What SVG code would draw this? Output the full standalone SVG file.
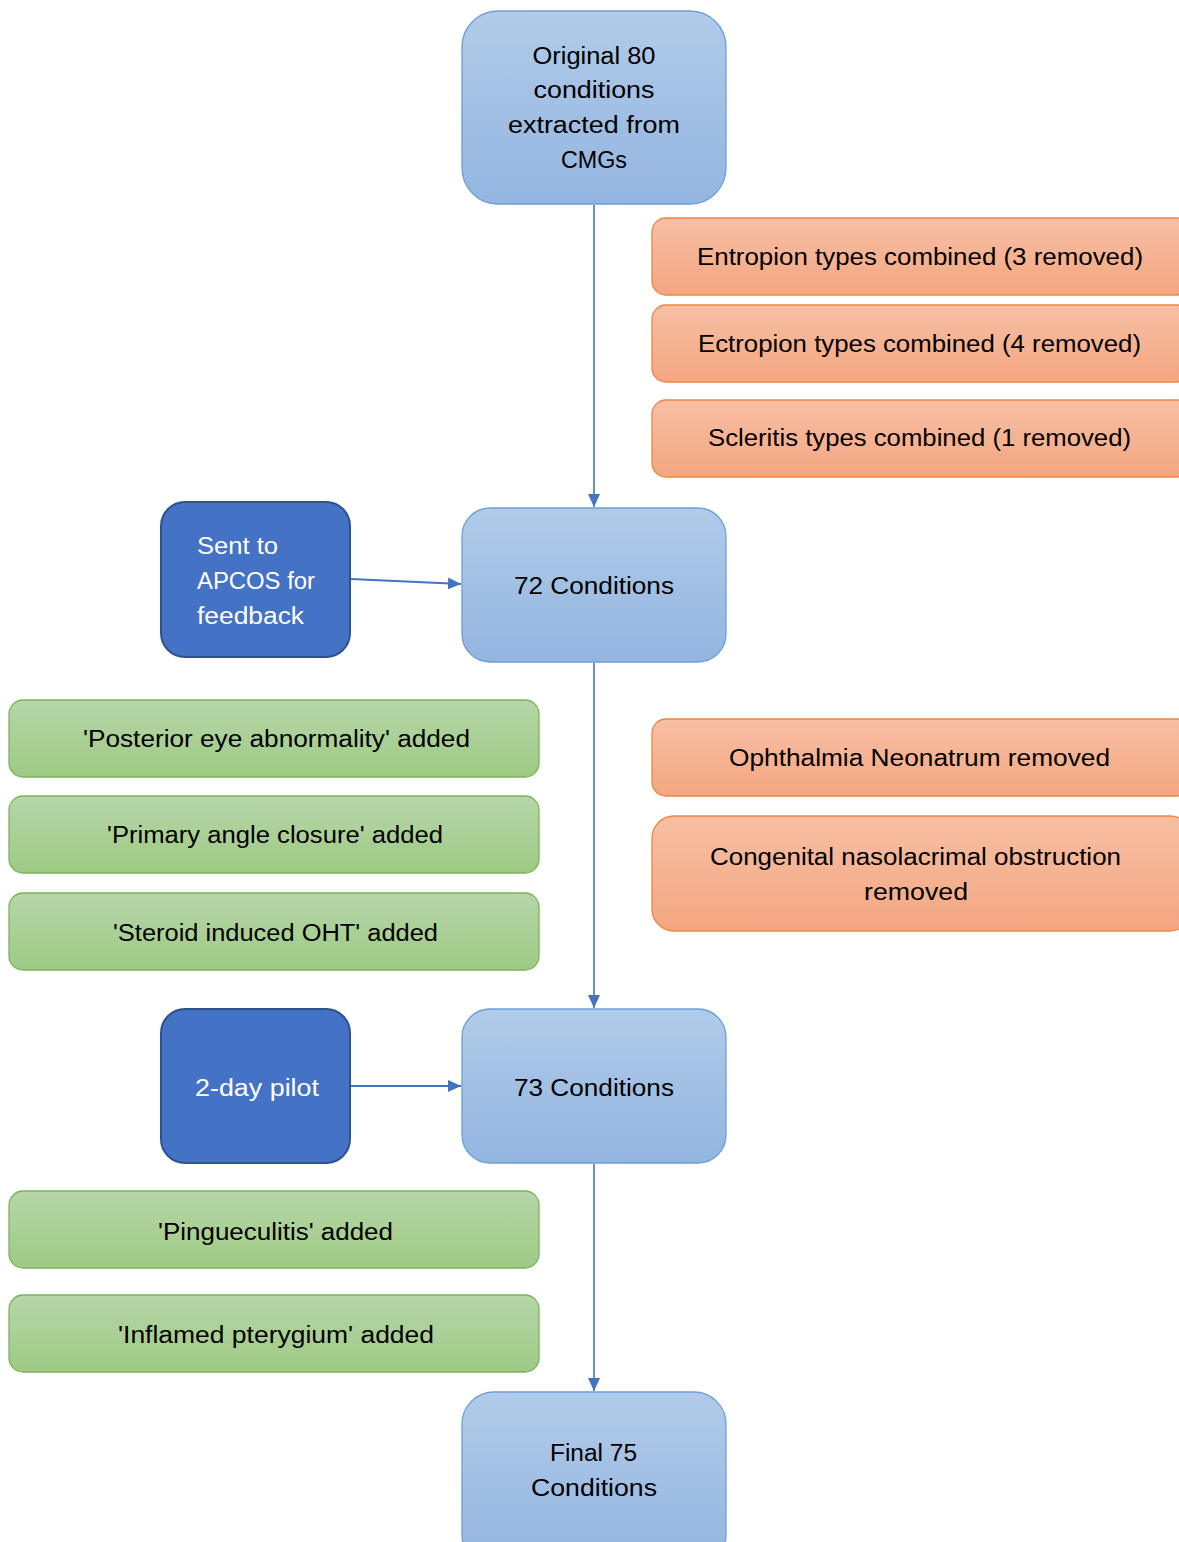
<svg xmlns="http://www.w3.org/2000/svg" width="1179" height="1542" viewBox="0 0 1179 1542">
  <defs>
    <linearGradient id="gBlue" x1="0" y1="0" x2="0" y2="1">
      <stop offset="0" stop-color="#b1cbe9"/>
      <stop offset="1" stop-color="#93b5e0"/>
    </linearGradient>
    <linearGradient id="gOrange" x1="0" y1="0" x2="0" y2="1">
      <stop offset="0" stop-color="#f7bfa5"/>
      <stop offset="1" stop-color="#f4a680"/>
    </linearGradient>
    <linearGradient id="gGreen" x1="0" y1="0" x2="0" y2="1">
      <stop offset="0" stop-color="#b6d6a8"/>
      <stop offset="1" stop-color="#9fca85"/>
    </linearGradient>
    <marker id="arrow" viewBox="0 0 13 12" refX="13" refY="6" markerWidth="13" markerHeight="12" markerUnits="userSpaceOnUse" orient="auto">
      <path d="M0,0 L13,6 L0,12 Z" fill="#4472c4"/>
    </marker>
  </defs>
  <style>
    .step { fill: url(#gBlue); stroke: #6d9fd6; stroke-width: 1.3; }
    .rem { fill: url(#gOrange); stroke: #ee8640; stroke-width: 1.3; }
    .add { fill: url(#gGreen); stroke: #7cb35a; stroke-width: 1.3; }
    .act { fill: #4472c4; stroke: #2f528f; stroke-width: 2; }
    text { font-family: "Liberation Sans", Arial, sans-serif; font-size: 23px; fill: #000; text-anchor: middle; }
    .light { fill: #ffffff; }
    .left { text-anchor: start; }
    .conn { stroke: #4472c4; stroke-width: 1.6; fill: none; marker-end: url(#arrow); }
    .thick { stroke-width: 2; }
  </style>

  <g id="connectors">
    <line class="conn" x1="594" y1="205" x2="594" y2="507"/>
    <line class="conn thick" x1="351" y1="579" x2="461" y2="584"/>
    <line class="conn" x1="594" y1="663" x2="594" y2="1008"/>
    <line class="conn thick" x1="351" y1="1086" x2="461" y2="1086"/>
    <line class="conn" x1="594" y1="1164" x2="594" y2="1391"/>
  </g>

  <g id="original">
    <rect class="step" x="462" y="11" width="264" height="193" rx="36"/>
    <text x="594" y="64" textLength="123" lengthAdjust="spacingAndGlyphs">Original 80</text>
    <text x="594" y="98" textLength="121" lengthAdjust="spacingAndGlyphs">conditions</text>
    <text x="594" y="133" textLength="172" lengthAdjust="spacingAndGlyphs">extracted from</text>
    <text x="594" y="168" textLength="66" lengthAdjust="spacingAndGlyphs">CMGs</text>
  </g>

  <g id="entropion">
    <rect class="rem" x="652" y="218" width="540" height="77" rx="14"/>
    <text x="920" y="265" textLength="446" lengthAdjust="spacingAndGlyphs">Entropion types combined (3 removed)</text>
  </g>
  <g id="ectropion">
    <rect class="rem" x="652" y="305" width="540" height="77" rx="14"/>
    <text x="919.5" y="352" textLength="443" lengthAdjust="spacingAndGlyphs">Ectropion types combined (4 removed)</text>
  </g>
  <g id="scleritis">
    <rect class="rem" x="652" y="400" width="540" height="77" rx="14"/>
    <text x="919.5" y="446" textLength="423" lengthAdjust="spacingAndGlyphs">Scleritis types combined (1 removed)</text>
  </g>

  <g id="apcos">
    <rect class="act" x="161" y="502" width="189" height="155" rx="24"/>
    <text class="light left" x="197" y="554" textLength="81" lengthAdjust="spacingAndGlyphs">Sent to</text>
    <text class="light left" x="197" y="589" textLength="118" lengthAdjust="spacingAndGlyphs">APCOS for</text>
    <text class="light left" x="197" y="624" textLength="107" lengthAdjust="spacingAndGlyphs">feedback</text>
  </g>

  <g id="c72">
    <rect class="step" x="462" y="508" width="264" height="154" rx="28"/>
    <text x="594" y="594" textLength="160" lengthAdjust="spacingAndGlyphs">72 Conditions</text>
  </g>

  <g id="posterior">
    <rect class="add" x="9" y="700" width="530" height="77" rx="14"/>
    <text x="276.5" y="747" textLength="387" lengthAdjust="spacingAndGlyphs">'Posterior eye abnormality' added</text>
  </g>
  <g id="angle">
    <rect class="add" x="9" y="796" width="530" height="77" rx="14"/>
    <text x="275" y="843" textLength="336" lengthAdjust="spacingAndGlyphs">'Primary angle closure' added</text>
  </g>
  <g id="steroid">
    <rect class="add" x="9" y="893" width="530" height="77" rx="14"/>
    <text x="275.5" y="941" textLength="325" lengthAdjust="spacingAndGlyphs">'Steroid induced OHT' added</text>
  </g>

  <g id="ophthalmia">
    <rect class="rem" x="652" y="719" width="540" height="77" rx="14"/>
    <text x="919.5" y="766" textLength="381" lengthAdjust="spacingAndGlyphs">Ophthalmia Neonatrum removed</text>
  </g>
  <g id="nasolacrimal">
    <rect class="rem" x="652" y="816" width="540" height="115" rx="22"/>
    <text x="915.5" y="865" textLength="411" lengthAdjust="spacingAndGlyphs">Congenital nasolacrimal obstruction</text>
    <text x="916" y="900" textLength="104" lengthAdjust="spacingAndGlyphs">removed</text>
  </g>

  <g id="pilot">
    <rect class="act" x="161" y="1009" width="189" height="154" rx="24"/>
    <text class="light" x="257" y="1096" textLength="124" lengthAdjust="spacingAndGlyphs">2-day pilot</text>
  </g>

  <g id="c73">
    <rect class="step" x="462" y="1009" width="264" height="154" rx="28"/>
    <text x="594" y="1096" textLength="160" lengthAdjust="spacingAndGlyphs">73 Conditions</text>
  </g>

  <g id="pingueculitis">
    <rect class="add" x="9" y="1191" width="530" height="77" rx="14"/>
    <text x="275.5" y="1240" textLength="235" lengthAdjust="spacingAndGlyphs">'Pingueculitis' added</text>
  </g>
  <g id="pterygium">
    <rect class="add" x="9" y="1295" width="530" height="77" rx="14"/>
    <text x="276" y="1343" textLength="316" lengthAdjust="spacingAndGlyphs">'Inflamed pterygium' added</text>
  </g>

  <g id="final">
    <rect class="step" x="462" y="1392" width="264" height="175" rx="32"/>
    <text x="593.5" y="1461" textLength="87" lengthAdjust="spacingAndGlyphs">Final 75</text>
    <text x="594" y="1496" textLength="126" lengthAdjust="spacingAndGlyphs">Conditions</text>
  </g>
</svg>
